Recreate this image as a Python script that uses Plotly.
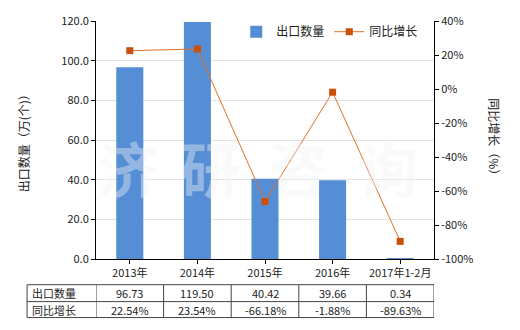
import plotly.graph_objects as go

categories = ["2013年", "2014年", "2015年", "2016年", "2017年1-2月"]
export_qty = [96.73, 119.50, 40.42, 39.66, 0.34]
yoy_growth = [22.54, 23.54, -66.18, -1.88, -89.63]
qty_labels = ["96.73", "119.50", "40.42", "39.66", "0.34"]
growth_labels = ["22.54%", "23.54%", "-66.18%", "-1.88%", "-89.63%"]
left_ticks = [0, 20, 40, 60, 80, 100, 120]
right_ticks = [-100, -80, -60, -40, -20, 0, 20, 40]

FONT = "Noto Sans CJK SC"
TXT = "#222222"

fig = go.Figure()
fig.add_trace(go.Bar(x=categories, y=export_qty, name="出口数量",
                     marker=dict(color="#558ED5", line=dict(width=0)),
                     width=0.4, yaxis="y"))
fig.add_trace(go.Scatter(x=categories, y=yoy_growth, name="同比增长",
                         mode="lines+markers", yaxis="y2",
                         line=dict(color="#E0702A", width=1),
                         marker=dict(symbol="square", size=7, color="#C8500A")))

fig.update_layout(
    width=520, height=330,
    margin=dict(l=96, r=86, t=19, b=71),
    paper_bgcolor="white", plot_bgcolor="white",
    font=dict(family=FONT, size=11, color=TXT),
    showlegend=True,
    legend=dict(orientation="h", x=0.415, y=0.955, xanchor="left", yanchor="middle",
                font=dict(size=12, color=TXT), bgcolor="rgba(0,0,0,0)",
                itemwidth=30, tracegroupgap=0),
    bargap=0.6,
    xaxis=dict(type="category", range=[-0.5, 4.5], showline=True, linecolor="black",
               linewidth=1, ticks="outside", ticklen=4, tickcolor="black",
               tickfont=dict(size=11, color=TXT), showgrid=False, fixedrange=True),
    yaxis=dict(range=[0, 120], tickvals=left_ticks,
               ticktext=[f"{v:.1f}" for v in left_ticks],
               showline=True, linecolor="black", linewidth=1,
               ticks="outside", ticklen=4, tickcolor="black",
               showgrid=True, gridcolor="#E3E3E3", gridwidth=1,
               tickfont=dict(size=11, color=TXT), zeroline=False),
    yaxis2=dict(range=[-100, 40], tickvals=right_ticks,
                ticktext=[f"{v}%" for v in right_ticks],
                overlaying="y", side="right", showline=True, linecolor="black",
                linewidth=1, ticks="outside", ticklen=4, tickcolor="black",
                showgrid=False, zeroline=False, tickfont=dict(size=11, color=TXT)),
)

# watermark (faint, bold)
for ch, xc in zip("济研咨询", [0.095, 0.337, 0.598, 0.864]):
    fig.add_annotation(text=f"<b>{ch}</b>", xref="paper", yref="paper",
                       x=xc, y=0.39, xanchor="center", yanchor="middle", showarrow=False,
                       font=dict(size=60, color="rgba(240,243,246,0.40)", family=FONT))

# axis titles
fig.add_annotation(text="出口数量（万(个)）", xref="paper", yref="paper",
                   x=-0.215, y=0.5, xanchor="center", yanchor="middle",
                   textangle=-90, showarrow=False,
                   font=dict(size=12, color=TXT))
fig.add_annotation(text="同比增长（%）", xref="paper", yref="paper",
                   x=1.18, y=0.5, xanchor="center", yanchor="middle",
                   textangle=90, showarrow=False,
                   font=dict(size=12, color=TXT))

# data table
y_top, y_mid, y_bot = -0.108, -0.179, -0.246
x_left = -0.204
line_style = dict(color="#444444", width=1)
for yy in (y_top, y_mid, y_bot):
    fig.add_shape(type="line", xref="paper", yref="paper", x0=x_left, x1=1.0,
                  y0=yy, y1=yy, line=line_style)
fig.add_shape(type="line", xref="paper", yref="paper", x0=x_left, x1=x_left,
              y0=y_top, y1=y_bot, line=line_style)
for k in range(len(categories) + 1):
    fig.add_shape(type="line", xref="x", yref="paper", x0=k - 0.5, x1=k - 0.5,
                  y0=y_top, y1=y_bot, line=line_style)

row_y = [(y_top + y_mid) / 2, (y_mid + y_bot) / 2]
for ry, label in zip(row_y, ["出口数量", "同比增长"]):
    fig.add_annotation(text=label, xref="paper", yref="paper", x=x_left + 0.008,
                       y=ry, xanchor="left", yanchor="middle", showarrow=False,
                       font=dict(size=11, color=TXT))
for i, cat in enumerate(categories):
    fig.add_annotation(text=qty_labels[i], xref="x", yref="paper", x=i, y=row_y[0],
                       xanchor="center", yanchor="middle",
                       showarrow=False, font=dict(size=11, color=TXT))
    fig.add_annotation(text=growth_labels[i], xref="x", yref="paper", x=i, y=row_y[1],
                       xanchor="center", yanchor="middle",
                       showarrow=False, font=dict(size=11, color=TXT))

fig.write_html("out.html")
